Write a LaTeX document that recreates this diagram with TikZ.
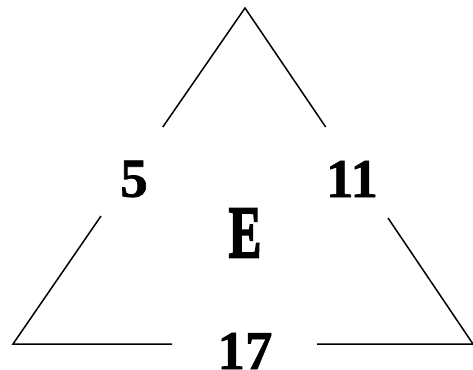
\documentclass[tikz,border=0pt]{standalone}
\usepackage{fontspec}
\setmainfont{Liberation Serif}
\newfontfamily\numfont[FakeBold=1.2]{Liberation Serif Bold}
\newfontfamily\efont[FakeBold=3]{Liberation Serif Bold}
\begin{document}
\begin{tikzpicture}[x=1pt,y=-1pt,
  side/.style={line width=1.5pt,black},
  num/.style={font=\fontsize{55}{60}\numfont,inner sep=0pt}]
\useasboundingbox (0,0) rectangle (473,369);
\coordinate (apex) at (245,8);
\coordinate (bl) at (13,344);
\coordinate (br) at (473,344);
\coordinate (l1) at (162.8,127);
\coordinate (l2) at (101,216);
\coordinate (r1) at (325.7,127);
\coordinate (r2) at (388,218);
\coordinate (b1) at (172,344);
\coordinate (b2) at (317,344);
\draw[side] (l1) -- (apex) -- (r1);
\draw[side] (l2) -- (bl) -- (b1);
\draw[side] (r2) -- (br) -- (b2);
\node[num] (five) at (134,179) {5};
\node[num] (eleven) at (352,179) {11};
\node[num] (seventeen) at (245,351) {17};
\node[inner sep=0pt,font=\fontsize{74}{80}\efont] (e) at (245,233) {\scalebox{0.66}[1]{E}};
\end{tikzpicture}
\end{document}
